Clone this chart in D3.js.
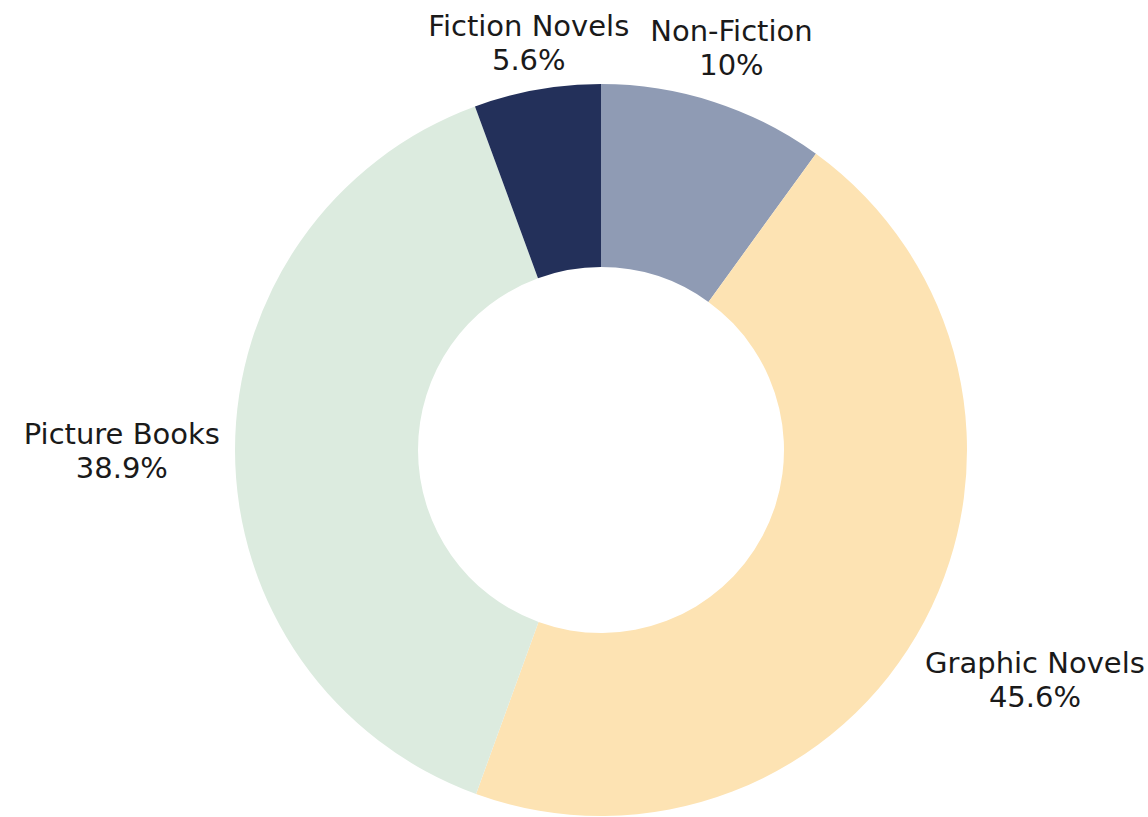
<!DOCTYPE html>
<html>
<head>
<meta charset="utf-8">
<script src="https://cdn.jsdelivr.net/npm/d3@7"></script>
<style>
  body { margin: 0; background: #fff; }
  text { font-family: "DejaVu Sans", sans-serif; fill: #1a1a1a; }
</style>
</head>
<body>
<div id="chart"></div>
<script>
// genre share, clockwise from 12 o'clock
let genres = ['Non-Fiction', 'Graphic Novels', 'Picture Books', 'Fiction Novels'];
let shares = [10, 45.6, 38.9, 5.6];
let labels = ['10%', '45.6%', '38.9%', '5.6%'];
let colours = ['#8f9bb4', '#fde3b3', '#dcebdf', '#23305a'];

let width = 1148;
let height = 817;
let cx = 601, cy = 450;
let outer = 366, inner = 183;

let data = genres.map((g, i) => ({ name: g, value: shares[i], label: labels[i] }));

let svg = d3.select('#chart')
    .append('svg')
    .attr('width', width)
    .attr('height', height);

let g = svg.append('g')
    .attr('transform', 'translate(' + cx + ',' + cy + ')');

let colour = d3.scaleOrdinal().domain(genres).range(colours);

let pie = d3.pie()
    .value(d => d.value)
    .sort(null);

let arc = d3.arc()
    .innerRadius(inner)
    .outerRadius(outer);

let arcs = pie(data);

g.selectAll('path')
    .data(arcs)
    .enter()
    .append('path')
    .attr('d', arc)
    .attr('fill', d => colour(d.data.name));

// labels sit outside the ring, pushed out by their own box size
let fontSize = 29, lineGap = 34;
let lab = g.selectAll('g.lab')
    .data(arcs)
    .enter()
    .append('g')
    .attr('class', 'lab');

lab.append('text')
    .attr('text-anchor', 'middle')
    .attr('font-size', fontSize)
    .attr('y', -lineGap / 2 + 10)
    .text(d => d.data.name);
lab.append('text')
    .attr('text-anchor', 'middle')
    .attr('font-size', fontSize)
    .attr('y', lineGap / 2 + 10)
    .text(d => d.data.label);

lab.attr('transform', function (d) {
    let box = this.getBBox();
    let a = (d.startAngle + d.endAngle) / 2;
    let s = Math.sin(a), c = Math.cos(a);
    let pad = -8 + 23 * Math.abs(s);
    let r = outer + pad + Math.abs(s) * box.width / 2 + Math.abs(c) * box.height / 2;
    return 'translate(' + (r * s) + ',' + (-r * c) + ')';
});
</script>
</body>
</html>
